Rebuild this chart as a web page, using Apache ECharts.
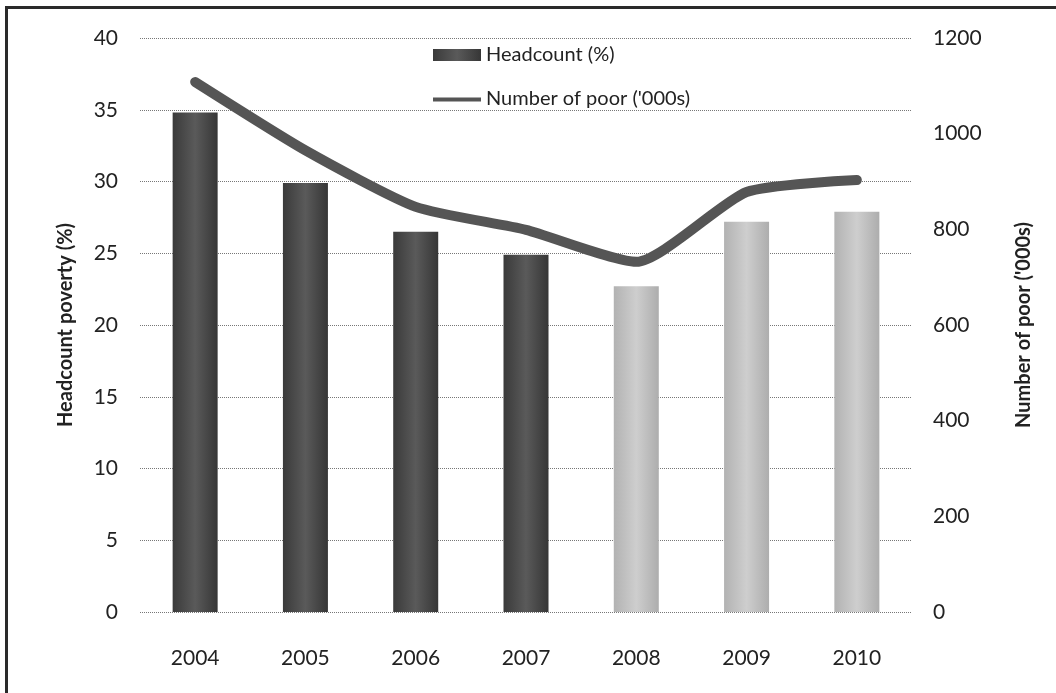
<!DOCTYPE html>
<html>
<head>
<meta charset="utf-8">
<script src="https://cdn.jsdelivr.net/npm/echarts@6/dist/echarts.min.js"></script>
<style>
  html, body { margin: 0; padding: 0; background: #fff; }
  #main { width: 1056px; height: 693px; }
  #frame {
    position: absolute; left: 5px; top: 6px; width: 1100px; height: 720px;
    border-left: 3px solid #2a2a2a; border-top: 3px solid #2a2a2a;
    pointer-events: none;
  }
</style>
</head>
<body>
<div id="main"></div>
<div id="frame"></div>
<script>
var years = ['2004', '2005', '2006', '2007', '2008', '2009', '2010'];
var headcount = [34.8, 29.9, 26.5, 24.9, 22.7, 27.2, 27.9];
var poor = [1108, 965, 847, 799, 732, 878, 903];
var lightFrom = 4; // bars from 2008 on are drawn light

var darkBar = new echarts.graphic.LinearGradient(0, 0, 1, 0, [
  { offset: 0, color: '#3a3a3a' },
  { offset: 0.5, color: '#5a5a5a' },
  { offset: 1, color: '#363636' }
]);
var lightBar = new echarts.graphic.LinearGradient(0, 0, 1, 0, [
  { offset: 0, color: '#b2b2b2' },
  { offset: 0.5, color: '#cecece' },
  { offset: 1, color: '#adadad' }
]);

var barData = headcount.map(function (v, i) {
  return { value: v, itemStyle: { color: i >= lightFrom ? lightBar : darkBar } };
});

// thin bar inside a 48x12 box, used as the line's legend icon
var lineIcon = 'path://M0,0L0,0M0,4.5L48,4.5L48,8.5L0,8.5ZM48,12L48,12';

var font = 'Lato, "Open Sans", sans-serif';
var chart = echarts.init(document.getElementById('main'));
chart.setOption({
  animation: false,
  textStyle: { fontFamily: font },
  grid: { left: 140, right: 144, top: 38, bottom: 81 },
  legend: {
    orient: 'vertical',
    left: 428,
    top: 40,
    itemGap: 24,
    itemWidth: 48,
    itemHeight: 12,
    textStyle: { fontSize: 20, color: '#222', fontFamily: font },
    data: [
      { name: 'Headcount (%)', icon: 'rect', itemStyle: { color: darkBar } },
      { name: "Number of poor ('000s)", icon: lineIcon, itemStyle: { color: '#555' } }
    ]
  },
  xAxis: {
    type: 'category',
    data: years,
    axisLine: { show: false },
    axisTick: { show: false },
    axisLabel: { fontSize: 21, color: '#222', margin: 36 }
  },
  yAxis: [
    {
      type: 'value',
      min: 0, max: 40, interval: 5,
      name: 'Headcount poverty (%)',
      nameLocation: 'middle',
      nameGap: 64,
      nameTextStyle: { fontSize: 20, fontWeight: 'bold', color: '#222' },
      axisLabel: { fontSize: 21, color: '#222', margin: 22 },
      splitLine: { lineStyle: { type: 'dotted', color: '#777', width: 1 } }
    },
    {
      type: 'value',
      min: 0, max: 1200, interval: 200,
      name: "Number of poor ('000s)",
      nameLocation: 'middle',
      nameGap: 102,
      nameRotate: 90,
      nameTextStyle: { fontSize: 20, fontWeight: 'bold', color: '#222' },
      axisLabel: { fontSize: 21, color: '#222', margin: 21, formatter: function (v) { return String(v); } },
      splitLine: { show: false }
    }
  ],
  series: [
    {
      name: 'Headcount (%)',
      type: 'bar',
      barWidth: 45,
      itemStyle: { color: darkBar },
      data: barData
    },
    {
      name: "Number of poor ('000s)",
      type: 'line',
      yAxisIndex: 1,
      smooth: 0.2,
      symbol: 'none',
      lineStyle: { color: '#555', width: 10, cap: 'round', join: 'round' },
      itemStyle: { color: '#555' },
      data: poor
    }
  ]
});
</script>
</body>
</html>
